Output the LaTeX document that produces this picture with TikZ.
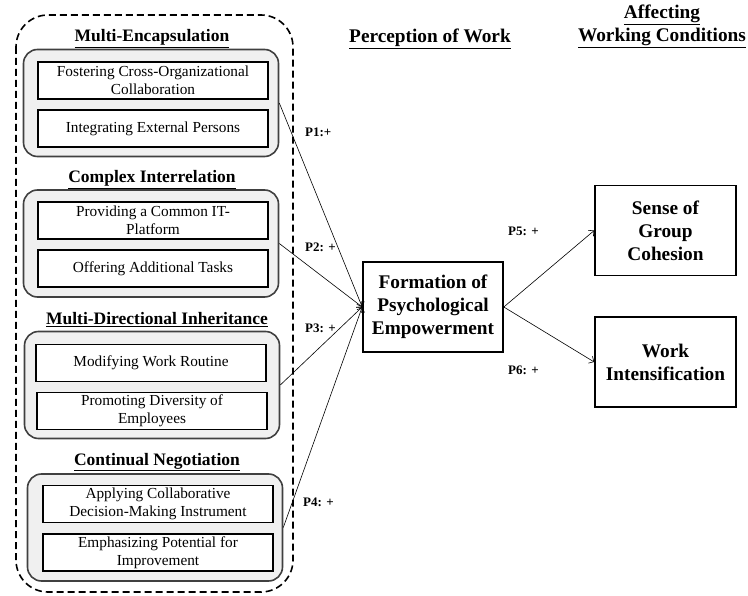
\documentclass[tikz,border=0pt]{standalone}
\usepackage{fontspec}
\setmainfont{Liberation Serif}
\usetikzlibrary{arrows.meta}
\begin{document}
\begin{tikzpicture}[x=1pt,y=-1pt,
	group_node/.style={rectangle,rounded corners=14pt,draw=black!75,line width=1.6pt,fill=black!6,minimum width=255pt,minimum height=107pt},
	item_node/.style={rectangle,draw,line width=1.6pt,fill=white,minimum width=230pt,minimum height=37pt,align=center,inner sep=1pt,font=\fontsize{15.3}{17.5}\selectfont},
	title_node/.style={anchor=base,inner sep=0pt,font=\fontsize{17.5}{20}\selectfont\bfseries},
	head_node/.style={anchor=base,inner sep=0pt,font=\fontsize{19.3}{23}\selectfont\bfseries},
	main_node/.style={rectangle,draw,line width=1.6pt,minimum width=140pt,minimum height=90pt,align=center,font=\fontsize{19.3}{23}\selectfont\bfseries},
	label_node/.style={anchor=west,inner sep=0pt,font=\fontsize{13}{15}\selectfont\bfseries},
	arrow_line/.style={-{Straight Barb[length=4pt,width=8pt]},line width=0.6pt}]
		
		\useasboundingbox (0,0) rectangle (748,596);
		\draw[line width=1.6pt,dash pattern=on 7pt off 4pt,rounded corners=32pt] (16,15) rectangle (293,592);
		
		\node[group_node] (g1) at (151,103) {};
		\node[title_node] (t1) at (152,42) {\underline{Multi-Encapsulation}};
		\node[item_node] (i11) at (153,80.5) {Fostering Cross-Organizational\\Collaboration};
		\node[item_node] (i12) at (153,128.5) {Integrating External Persons};
		
		\node[group_node] (g2) at (151,243.5) {};
		\node[title_node] (t2) at (152,183) {\underline{Complex Interrelation}};
		\node[item_node] (i21) at (153,220.5) {Providing a Common IT-\\Platform};
		\node[item_node] (i22) at (153,268.5) {Offering Additional Tasks};
		
		\node[group_node] (g3) at (152,385) {};
		\node[title_node] (t3) at (157,325) {\underline{Multi-Directional Inheritance}};
		\node[item_node] (i31) at (151,363) {Modifying Work Routine};
		\node[item_node] (i32) at (152,411) {Promoting Diversity of\\Employees};
		
		\node[group_node] (g4) at (155,527.5) {};
		\node[title_node] (t4) at (157,465) {\underline{Continual Negotiation}};
		\node[item_node] (i41) at (158,504) {Applying Collaborative\\Decision-Making Instrument};
		\node[item_node] (i42) at (158,552.5) {Emphasizing Potential for\\Improvement};
		
		\node[head_node] (h1) at (430,43) {\underline{Perception of Work}};
		\node[head_node] (h2) at (662,19) {\underline{Affecting}};
		\node[head_node] (h3) at (662,42) {\underline{Working Conditions}};
		
		\node[main_node] (pe) at (433,307) {Formation of\\Psychological\\Empowerment};
		\node[main_node,minimum width=141pt] (sg) at (665.5,230.5) {Sense of\\Group\\Cohesion};
		\node[main_node,minimum width=141pt] (wi) at (665.5,362) {Work\\Intensification};
		
		\node[label_node] (p1) at (305,132) {P1:+};
		\node[label_node] (p2) at (305,247) {P2: +};
		\node[label_node] (p3) at (305,328) {P3: +};
		\node[label_node] (p4) at (303,502) {P4: +};
		\node[label_node] (p5) at (508,231) {P5: +};
		\node[label_node] (p6) at (508,370) {P6: +};
		
		\draw[arrow_line] (g1.east) -- (pe.west);
		\draw[arrow_line] (g2.east) -- (pe.west);
		\draw[arrow_line] (g3.east) -- (pe.west);
		\draw[arrow_line] (g4.east) -- (pe.west);
		
		\draw[arrow_line] (pe.east) -- (sg.west);
		\draw[arrow_line] (pe.east) -- (wi.west);
		\end{tikzpicture}
\end{document}
